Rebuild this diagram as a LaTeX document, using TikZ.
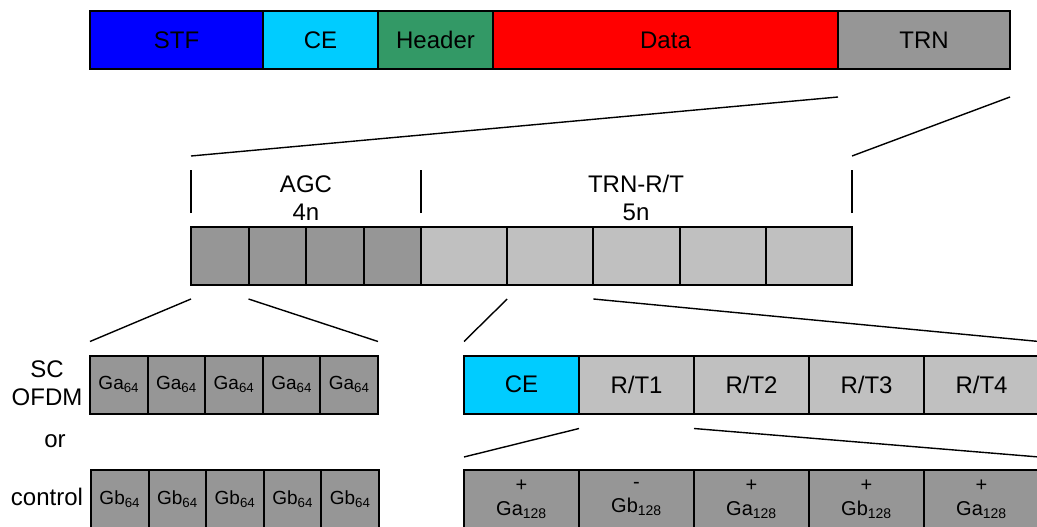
\documentclass[tikz,border=0pt]{standalone}
\usepackage{fontspec}
\setmainfont{Liberation Sans}
\usetikzlibrary{positioning}

\definecolor{stfblue}{HTML}{0000FF}
\definecolor{ceblue}{HTML}{00CCFF}
\definecolor{hdrgreen}{HTML}{339966}
\definecolor{datared}{HTML}{FF0000}
\definecolor{darkcell}{HTML}{969696}
\definecolor{lightcell}{HTML}{C0C0C0}

\begin{document}
\begin{tikzpicture}[
  x=1pt, y=-1pt,
  cell/.style={rectangle, draw, line width=2pt, outer sep=0pt, inner sep=0pt, minimum height=58pt, font=\fontsize{24}{28}\selectfont},
  agccell/.style={cell, minimum width=57.5pt, fill=darkcell},
  rtcell/.style={cell, minimum width=86.2pt, fill=lightcell},
  gcell/.style={cell, minimum width=57.6pt, fill=darkcell, font=\fontsize{19}{22}\selectfont},
  seqcell/.style={cell, minimum width=115pt, fill=darkcell, align=center, font=\fontsize{20}{24}\selectfont},
  zoom/.style={line width=1.4pt},
  lab/.style={align=center, inner sep=0pt, font=\fontsize{24}{28}\selectfont}
]
\useasboundingbox (0,0) rectangle (1037,527);

% Packet
\node[cell, fill=stfblue, minimum width=173pt] (stf) at (176.5,40) {STF};
\node[cell, fill=ceblue, minimum width=115pt, right=0pt of stf] (ce) {CE};
\node[cell, fill=hdrgreen, minimum width=115pt, right=0pt of ce] (hdr) {Header};
\node[cell, fill=datared, minimum width=345pt, right=0pt of hdr] (data) {Data};
\node[cell, fill=darkcell, minimum width=172pt, right=0pt of data] (trn) {TRN};

% TRN field
\node[agccell] (agc1) at (219.75,256) {};
\node[agccell, right=0pt of agc1] (agc2) {};
\node[agccell, right=0pt of agc2] (agc3) {};
\node[agccell, right=0pt of agc3] (agc4) {};
\node[rtcell, right=0pt of agc4] (rt1) {};
\node[rtcell, right=0pt of rt1] (rt2) {};
\node[rtcell, right=0pt of rt2] (rt3) {};
\node[rtcell, right=0pt of rt3] (rt4) {};
\node[rtcell, right=0pt of rt4] (rt5) {};

% brackets above the TRN field
\draw[zoom] ([yshift=14pt]agc1.north west) -- ++(0,-43);
\draw[zoom] ([yshift=14pt]agc4.north east) -- ++(0,-43);
\draw[zoom] ([yshift=14pt]rt5.north east) -- ++(0,-43);
\node[lab] (agclab) at (306,198) {AGC\\4n};
\node[lab] (rtlab) at (636,198) {TRN-R/T\\5n};

% TRN -> TRN field
\draw[zoom] ([yshift=-28pt]trn.south west) -- ([yshift=71pt]agc1.north west);
\draw[zoom] ([yshift=-28pt]trn.south east) -- ([yshift=71pt]rt5.north east);

% AGC subfield
\node[gcell] (ga1) at (118.8,384.5) {Ga\textsubscript{64}};
\node[gcell, right=0pt of ga1] (ga2) {Ga\textsubscript{64}};
\node[gcell, right=0pt of ga2] (ga3) {Ga\textsubscript{64}};
\node[gcell, right=0pt of ga3] (ga4) {Ga\textsubscript{64}};
\node[gcell, right=0pt of ga4] (ga5) {Ga\textsubscript{64}};

\node[gcell] (gb1) at (119.8,499) {Gb\textsubscript{64}};
\node[gcell, right=0pt of gb1] (gb2) {Gb\textsubscript{64}};
\node[gcell, right=0pt of gb2] (gb3) {Gb\textsubscript{64}};
\node[gcell, right=0pt of gb3] (gb4) {Gb\textsubscript{64}};
\node[gcell, right=0pt of gb4] (gb5) {Gb\textsubscript{64}};

\node[lab] (sclab) at (47,383) {SC\\OFDM};
\node[lab] (orlab) at (55,441) {or};
\node[lab] (ctrllab) at (47,497) {control};

\draw[zoom] ([yshift=-14pt]agc1.south west) -- ([yshift=14pt]ga1.north west);
\draw[zoom] ([yshift=-14pt]agc1.south east) -- ([yshift=14pt]ga5.north east);

% TRN-R/T subfield
\node[cell, fill=ceblue, minimum width=115pt] (cerow) at (521.5,384.5) {CE};
\node[cell, fill=lightcell, minimum width=115pt, right=0pt of cerow] (rtb1) {R/T1};
\node[cell, fill=lightcell, minimum width=115pt, right=0pt of rtb1] (rtb2) {R/T2};
\node[cell, fill=lightcell, minimum width=115pt, right=0pt of rtb2] (rtb3) {R/T3};
\node[cell, fill=lightcell, minimum width=115pt, right=0pt of rtb3] (rtb4) {R/T4};

\draw[zoom] ([yshift=-14pt]rt2.south west) -- ([yshift=14pt]cerow.north west);
\draw[zoom] ([yshift=-14pt]rt2.south east) -- ([yshift=14pt]rtb4.north east);

% R/T sequence
\node[seqcell] (seq1) at (521.5,499) {+\\Ga\textsubscript{128}};
\node[seqcell, right=0pt of seq1] (seq2) {-\\Gb\textsubscript{128}};
\node[seqcell, right=0pt of seq2] (seq3) {+\\Ga\textsubscript{128}};
\node[seqcell, right=0pt of seq3] (seq4) {+\\Gb\textsubscript{128}};
\node[seqcell, right=0pt of seq4] (seq5) {+\\Ga\textsubscript{128}};

\draw[zoom] ([yshift=-15pt]rtb1.south west) -- ([yshift=13pt]seq1.north west);
\draw[zoom] ([yshift=-15pt]rtb1.south east) -- ([yshift=13pt]seq5.north east);

\end{tikzpicture}
\end{document}
